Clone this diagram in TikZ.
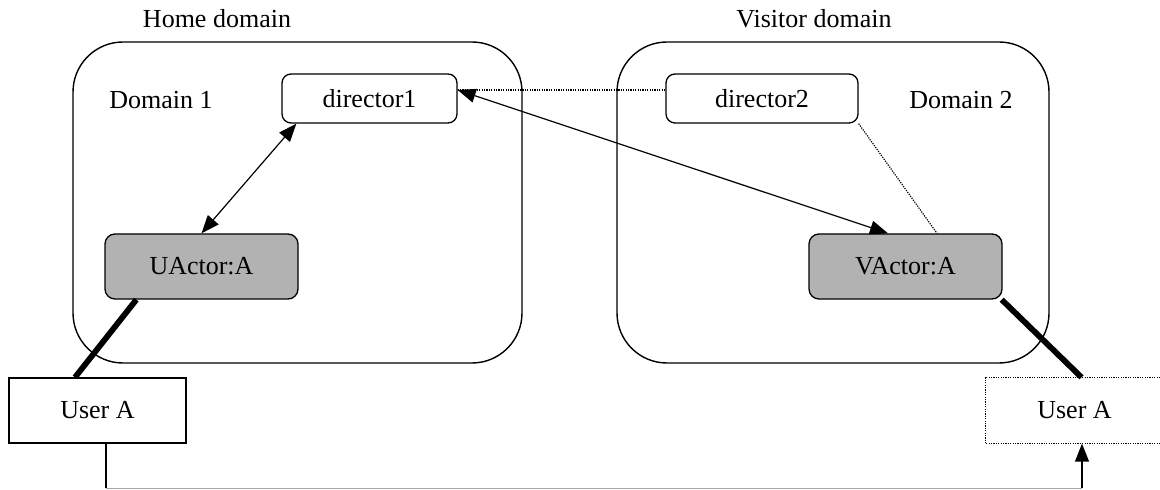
\documentclass[tikz,border=0pt]{standalone}
\usepackage{fontspec}
\setmainfont{Liberation Serif}
\usetikzlibrary{arrows.meta}
\begin{document}
\begin{tikzpicture}[x=0.5pt,y=-0.5pt,
  every node/.style={font=\fontsize{13}{15}\selectfont},
  domainbox/.style={draw, line width=0.7pt, rounded corners=25pt, inner sep=0pt},
  dirbox/.style={draw, line width=0.65pt, rounded corners=4.5pt, fill=white, inner sep=0pt, minimum height=24.5pt},
  actorbox/.style={draw, line width=0.65pt, rounded corners=5pt, fill=black!30, inner sep=0pt, minimum width=96.5pt, minimum height=32.5pt},
  userbox/.style={draw, line width=0.65pt, fill=white, inner sep=0pt, minimum width=88.5pt, minimum height=32.5pt},
  dotline/.style={line width=0.6pt, dash pattern=on 0.6pt off 0.6pt},
  tip/.style={},
  msg/.style={line width=0.6pt, {Triangle[length=9pt,width=7pt]}-{Triangle[length=9pt,width=7pt]}},
  thickline/.style={line width=2.9pt},
  lbl/.style={anchor=base, inner sep=0pt}
]
\clip (0,0) rectangle (1160,490);
% domains
\node[domainbox, minimum width=224.5pt, minimum height=160.5pt] (home) at (297.5,202.5) {};
\node[domainbox, minimum width=216pt, minimum height=160.5pt] (visitor) at (833,202.5) {};
\node[lbl] (homelbl) at (217,28) {Home domain};
\node[lbl] (visitorlbl) at (814,28) {Visitor domain};
\node[lbl] (dom1) at (161,109) {Domain 1};
\node[lbl] (dom2) at (961,109) {Domain 2};
% nodes
\node[dirbox, minimum width=87.5pt] (d1) at (369.5,98.5) {director1};
\node[dirbox, minimum width=96pt] (d2) at (762,98.5) {director2};
\node[actorbox] (ua) at (201.5,266.5) {UActor:A};
\node[actorbox] (va) at (905.5,266.5) {VActor:A};
\node[userbox] (ul) at (97.5,410.5) {User A};
\node[userbox, draw=none] (ur) at (1074.5,410.5) {User A};
\draw[dotline] (ur.north west) rectangle (ur.south east);
% connectors
\draw[dotline] ([yshift=4.25pt]d1.east) -- ([yshift=4.25pt]d2.west);
\draw[dotline] (d2.south east) -- ([xshift=15.75pt]va.north);
\draw[msg] ([xshift=7.5pt]d1.south west) -- (ua.north);
\draw[msg] ([yshift=4.25pt]d1.east) -- ([xshift=-8.75pt]va.north);
\draw[thickline] ([xshift=16pt]ua.south west) -- ([xshift=-11.25pt]ul.north);
\draw[thickline] ([xshift=-0.5pt]va.south east) -- ([xshift=3.5pt]ur.north);
\coordinate (b1) at (106,488.5);
\coordinate (b2) at (1082,488.5);
\draw[line width=0.65pt] ([xshift=4.25pt]ul.south) -- (b1);
\draw[line width=0.65pt, black!35] (b1) -- (b2);
\draw[line width=0.65pt, -{Triangle[length=9pt,width=7pt]}] (b2) -- ([xshift=3.75pt]ur.south);
\end{tikzpicture}
\end{document}
